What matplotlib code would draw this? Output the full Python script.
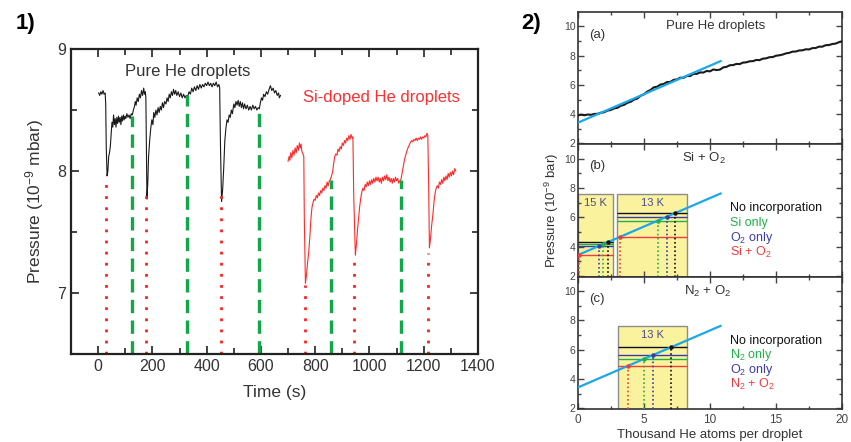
import numpy as np
import matplotlib
matplotlib.use("Agg")
import matplotlib.pyplot as plt
from matplotlib.patches import Rectangle

plt.rcParams['font.family'] = ['Liberation Sans', 'DejaVu Sans']
plt.rcParams['mathtext.fontset'] = 'custom'
plt.rcParams['mathtext.rm'] = 'Liberation Sans'
plt.rcParams['mathtext.it'] = 'Liberation Sans:italic'

# ---- panel 1: pressure vs time ----
pure_t = [2, 6, 10, 14, 18, 22, 26, 28, 30, 33, 36, 39, 42, 45, 48, 51, 54, 57, 60, 63,
          66, 69, 72, 75, 78, 81, 84, 87, 90, 93, 96, 99, 102, 106, 110, 114, 118, 122, 126, 130,
          134, 137, 140, 144, 148, 152, 156, 160, 164, 168, 171, 174, 176, 178, 180, 183, 186, 190, 194, 198,
          202, 205, 209, 213, 217, 221, 225, 229, 233, 237, 241, 245, 250, 254, 258, 262, 266, 270, 274, 278,
          282, 286, 290, 295, 300, 305, 310, 315, 320, 325, 330, 335, 340, 345, 350, 355, 360, 365, 370, 375,
          380, 385, 390, 395, 400, 405, 410, 415, 420, 425, 430, 435, 440, 445, 448, 451, 455, 459, 463, 467,
          471, 475, 479, 483, 487, 491, 495, 500, 504, 508, 512, 516, 520, 524, 528, 532, 536, 540, 545, 550,
          555, 560, 565, 570, 575, 580, 585, 590, 594, 598, 602, 606, 610, 615, 620, 625, 630, 635, 640, 645,
          650, 655, 660, 665, 668, 672]
pure_p = [8.64, 8.62, 8.65, 8.63, 8.66, 8.63, 8.64, 8.55, 8.2, 7.96, 8.0, 8.12, 8.15, 8.2, 8.3, 8.4, 8.36, 8.46, 8.38, 8.43,
          8.36, 8.44, 8.39, 8.45, 8.40, 8.44, 8.38, 8.45, 8.41, 8.46, 8.42, 8.45, 8.43, 8.47, 8.44, 8.46, 8.43, 8.47, 8.46, 8.50,
          8.53, 8.57, 8.54, 8.60, 8.57, 8.63, 8.60, 8.66, 8.62, 8.68, 8.63, 8.65, 8.60, 8.2, 7.77, 7.9, 8.12, 8.25, 8.35, 8.42,
          8.38, 8.48, 8.44, 8.50, 8.46, 8.52, 8.48, 8.53, 8.50, 8.56, 8.52, 8.57, 8.55, 8.60, 8.57, 8.63, 8.60, 8.65, 8.62, 8.67,
          8.63, 8.66, 8.62, 8.65, 8.61, 8.64, 8.60, 8.63, 8.60, 8.62, 8.61, 8.65, 8.63, 8.68, 8.65, 8.69, 8.66, 8.70, 8.67, 8.71,
          8.68, 8.71, 8.69, 8.72, 8.70, 8.73, 8.70, 8.72, 8.69, 8.72, 8.70, 8.73, 8.69, 8.71, 8.68, 8.2, 7.75, 7.85, 8.03, 8.25,
          8.35, 8.42, 8.40, 8.46, 8.44, 8.50, 8.47, 8.55, 8.52, 8.57, 8.54, 8.58, 8.53, 8.57, 8.52, 8.56, 8.51, 8.55, 8.51, 8.54,
          8.50, 8.53, 8.50, 8.54, 8.51, 8.53, 8.50, 8.52, 8.51, 8.56, 8.60, 8.58, 8.63, 8.61, 8.65, 8.63, 8.67, 8.70, 8.66, 8.68,
          8.64, 8.66, 8.62, 8.64, 8.60, 8.62]

si_t = [700, 704, 707, 710, 714, 718, 722, 726, 730, 734, 738, 742, 745, 748, 751, 755, 758, 760, 764, 768,
        772, 776, 780, 784, 788, 792, 796, 800, 804, 808, 812, 816, 820, 824, 828, 832, 836, 840, 844, 848,
        852, 856, 860, 864, 868, 872, 876, 880, 884, 888, 892, 896, 900, 904, 908, 912, 916, 920, 924, 928,
        932, 936, 939, 942, 948, 952, 956, 960, 964, 968, 972, 976, 980, 984, 988, 992, 996, 1000, 1004, 1008,
        1012, 1016, 1020, 1024, 1028, 1032, 1036, 1040, 1044, 1048, 1052, 1056, 1060, 1064, 1068, 1072, 1076, 1080, 1084, 1088,
        1092, 1096, 1100, 1104, 1108, 1112, 1116, 1120, 1124, 1128, 1132, 1136, 1140, 1144, 1148, 1152, 1156, 1160, 1164, 1168,
        1172, 1176, 1180, 1184, 1188, 1192, 1196, 1200, 1204, 1208, 1212, 1215, 1218, 1221, 1225, 1229, 1234, 1238, 1242, 1246,
        1250, 1254, 1258, 1262, 1266, 1270, 1274, 1278, 1282, 1286, 1290, 1294, 1298, 1302, 1306, 1310, 1314, 1318]
si_p = [8.08, 8.12, 8.09, 8.15, 8.11, 8.17, 8.13, 8.19, 8.15, 8.21, 8.17, 8.23, 8.19, 8.22, 8.16, 8.14, 8.12, 7.6, 7.08, 7.15,
        7.25, 7.33, 7.45, 7.60, 7.70, 7.74, 7.77, 7.76, 7.80, 7.78, 7.82, 7.80, 7.84, 7.82, 7.86, 7.84, 7.88, 7.86, 7.91, 7.88,
        7.92, 7.93, 7.96, 7.99, 8.06, 8.12, 8.14, 8.13, 8.18, 8.16, 8.20, 8.18, 8.23, 8.21, 8.25, 8.23, 8.27, 8.25, 8.29, 8.26,
        8.30, 8.27, 8.28, 7.8, 7.31, 7.40, 7.52, 7.62, 7.71, 7.78, 7.83, 7.86, 7.84, 7.89, 7.87, 7.91, 7.88, 7.92, 7.89, 7.93,
        7.90, 7.94, 7.91, 7.95, 7.92, 7.95, 7.91, 7.94, 7.90, 7.95, 7.92, 7.96, 7.93, 7.97, 7.92, 7.95, 7.91, 7.94, 7.90, 7.94,
        7.91, 7.95, 7.92, 7.94, 7.90, 7.92, 7.93, 7.98, 8.03, 8.08, 8.12, 8.15, 8.18, 8.20, 8.22, 8.24, 8.25, 8.24, 8.26, 8.25,
        8.27, 8.25, 8.27, 8.26, 8.28, 8.26, 8.28, 8.27, 8.29, 8.28, 8.31, 8.29, 7.9, 7.37, 7.45, 7.55, 7.65, 7.75, 7.82, 7.86,
        7.88, 7.86, 7.91, 7.89, 7.93, 7.90, 7.95, 7.92, 7.96, 7.93, 7.98, 7.95, 7.99, 7.96, 8.00, 7.97, 8.02, 8.00]

# marker lines (time, top of line)
red_t = [28, 177, 453, 761, 943, 1217]
red_top = [7.93, 7.82, 7.82, 7.07, 7.30, 7.33]
green_t = [126, 329, 594, 858, 1116]
green_top = [8.45, 8.62, 8.50, 7.93, 7.93]

# ---- panel 2: pressure vs droplet size ----
size_k = [0, 0.25, 0.5, 0.75, 1, 1.25, 1.5, 1.75, 2, 2.25, 2.5, 2.75, 3, 3.25, 3.5, 3.75, 4, 4.25, 4.5, 4.75,
          5, 5.25, 5.5, 5.75, 6, 6.25, 6.5, 6.75, 7, 7.25, 7.5, 7.75, 8, 8.25, 8.5, 8.75, 9, 9.25, 9.5, 9.75,
          10, 10.25, 10.5, 10.75, 11, 11.25, 11.5, 11.75, 12, 12.25, 12.5, 12.75, 13, 13.25, 13.5, 13.75, 14, 14.25, 14.5, 14.75,
          15, 15.25, 15.5, 15.75, 16, 16.25, 16.5, 16.75, 17, 17.25, 17.5, 17.75, 18, 18.25, 18.5, 18.75, 19, 19.25, 19.5, 19.75, 20]
press_a = [3.92, 3.97, 3.93, 3.98, 3.96, 4.02, 4.03, 4.10, 4.14, 4.25, 4.29, 4.40, 4.44, 4.58, 4.64, 4.78, 4.85, 5.00, 5.07, 5.26,
           5.36, 5.55, 5.66, 5.84, 5.88, 6.03, 6.07, 6.20, 6.21, 6.35, 6.38, 6.50, 6.49, 6.62, 6.61, 6.76, 6.76, 6.86, 6.85, 6.96,
           6.93, 7.06, 7.02, 7.05, 7.20, 7.24, 7.35, 7.36, 7.44, 7.43, 7.53, 7.55, 7.62, 7.63, 7.71, 7.70, 7.80, 7.82, 7.90, 7.91,
           8.00, 8.03, 8.08, 8.16, 8.20, 8.28, 8.29, 8.36, 8.37, 8.44, 8.43, 8.52, 8.53, 8.62, 8.62, 8.72, 8.73, 8.80, 8.83, 8.92, 8.98]
fit_x = [0, 10.8]
fit_y = [3.42, 7.63]

legend_colors = ['#111111', '#22b04a', '#3c3ca8', '#f03c3c']
labels_b = ['No incorporation', 'Si only', 'O$_2$ only', 'Si + O$_2$']
labels_c = ['No incorporation', 'N$_2$ only', 'O$_2$ only', 'N$_2$ + O$_2$']
# pressure levels (black, green, blue, red)
levels_b15 = [4.32, 4.15, 4.05, 3.44]
levels_b13 = [6.28, 5.77, 6.04, 4.67]
levels_c13 = [6.16, 5.36, 5.63, 4.90]
boxes_b = [(0, 2.65, '15 K'), (3.0, 8.24, '13 K')]
boxes_c = [(3.05, 8.24, '13 K')]

fig = plt.figure(figsize=(8.51, 4.42), dpi=100)

ax = fig.add_axes([0.0834, 0.199, 0.4783, 0.690])
ax.plot(pure_t, pure_p, color='#1a1a1a', lw=0.8)
ax.plot(si_t, si_p, color='#ff2a2a', lw=0.8)
ax.vlines(red_t, 6.5, red_top, colors='#ff2020', linestyles=(0, (1, 3)), lw=2)
ax.vlines(green_t, 6.5, green_top, colors='#12a84a', linestyles=(0, (4, 2.2)), lw=2.4)
ax.set_xlim(-100, 1400)
ax.set_ylim(6.5, 9)
ax.set_xticks(range(0, 1401, 200))
ax.set_xticks(range(-100, 1400, 100), minor=True)
ax.set_yticks([7, 8, 9])
ax.set_yticks([6.5, 7.5, 8.5], minor=True)
ax.tick_params(which='both', direction='in', top=True, right=True, labelsize=11.5, width=1.3, colors='#333333')
ax.tick_params(which='major', length=6)
ax.tick_params(which='minor', length=4)
for s in ax.spines.values():
    s.set_linewidth(1.6)
    s.set_color('#222222')
ax.set_xlabel('Time (s)', fontsize=12.5, color='#333333', labelpad=8)
ax.set_ylabel('Pressure (10$^{-9}$ mbar)', fontsize=12.5, color='#333333', labelpad=8)
ax.text(331, 8.82, 'Pure He droplets', fontsize=12, color='#333333', ha='center', va='center')
ax.text(1045, 8.60, 'Si-doped He droplets', fontsize=12, color='#ff3030', ha='center', va='center')

fig.text(0.018, 0.935, '1)', fontsize=16, fontweight='bold')
fig.text(0.612, 0.935, '2)', fontsize=16, fontweight='bold')

# right-hand stacked panels
h = 0.2995
bottoms = [0.0747 + 2 * h, 0.0747 + h, 0.0747]
axs = [fig.add_axes([0.679, b, 0.3106, h]) for b in bottoms]
for i, a in enumerate(axs):
    a.set_xlim(0, 20)
    a.set_ylim(1.95, 11)
    a.set_xticks([0, 5, 10, 15, 20])
    a.set_xticks([2.5, 7.5, 12.5, 17.5], minor=True)
    a.set_yticks([2, 4, 6, 8, 10])
    a.set_yticks([3, 5, 7, 9], minor=True)
    a.tick_params(which='both', direction='in', top=True, right=True, labelsize=8.5, width=1, colors='#444444')
    a.tick_params(which='major', length=4)
    a.tick_params(which='minor', length=2.5)
    a.tick_params(axis='y', pad=1.5, labelsize=7.5)
    for s in a.spines.values():
        s.set_linewidth(1.2)
        s.set_color('#333333')
    if i < 2:
        a.tick_params(axis='x', labelbottom=False)
    a.plot(fit_x, fit_y, color='#1ba8e8', lw=1.6, zorder=5)

axa, axb, axc = axs
axa.plot(size_k, press_a, color='#1a1a1a', lw=1.5, zorder=4)
axa.text(0.85, 9.45, '(a)', fontsize=9.5, color='#333333', va='center')
axa.text(10.45, 10.0, 'Pure He droplets', fontsize=9.5, color='#333333', ha='center', va='center')


def draw_levels(a, x0, x1, label, levels):
    a.add_patch(Rectangle((x0, 1.95), x1 - x0, 7.6 - 1.95, facecolor='#fbf29e',
                          edgecolor='#8c8c8c', lw=1.0, zorder=1))
    a.text((x0 + x1) / 2, 7.0, label, fontsize=8, color='#4a4a90', ha='center', va='center', zorder=3)
    for lev, col in zip(levels, legend_colors):
        a.hlines(lev, x0, x1, colors=col, lw=1.0, zorder=2)
        xi = np.interp(lev, fit_y, fit_x)
        a.vlines(xi, 1.95, lev, colors=col, linestyles=(0, (1, 1.5)), lw=1.2, zorder=3)
        a.plot(xi, lev, 'o', ms=2.2, color=col, zorder=6)


for (x0, x1, lab), levs in zip(boxes_b, [levels_b15, levels_b13]):
    draw_levels(axb, x0, x1, lab, levs)
for (x0, x1, lab), levs in zip(boxes_c, [levels_c13]):
    draw_levels(axc, x0, x1, lab, levs)

axb.text(0.85, 9.5, '(b)', fontsize=9.5, color='#333333', va='center')
axb.text(9.55, 10.05, 'Si + O$_2$', fontsize=9.5, color='#333333', ha='center', va='center')
axc.text(0.85, 9.5, '(c)', fontsize=9.5, color='#333333', va='center')
axc.text(9.8, 10.0, 'N$_2$ + O$_2$', fontsize=9.5, color='#333333', ha='center', va='center')

for a, labs in [(axb, labels_b), (axc, labels_c)]:
    for k, (t, col) in enumerate(zip(labs, legend_colors)):
        a.text(11.5, 6.62 - 1.0 * k, t, fontsize=9, color=col, va='center')

axb.set_ylabel('Pressure (10$^{-9}$ bar)', fontsize=9.5, color='#333333', labelpad=2)
axc.set_xlabel('Thousand He atoms per droplet', fontsize=9.5, color='#333333', labelpad=2)

fig.savefig('out.png', dpi=100)
